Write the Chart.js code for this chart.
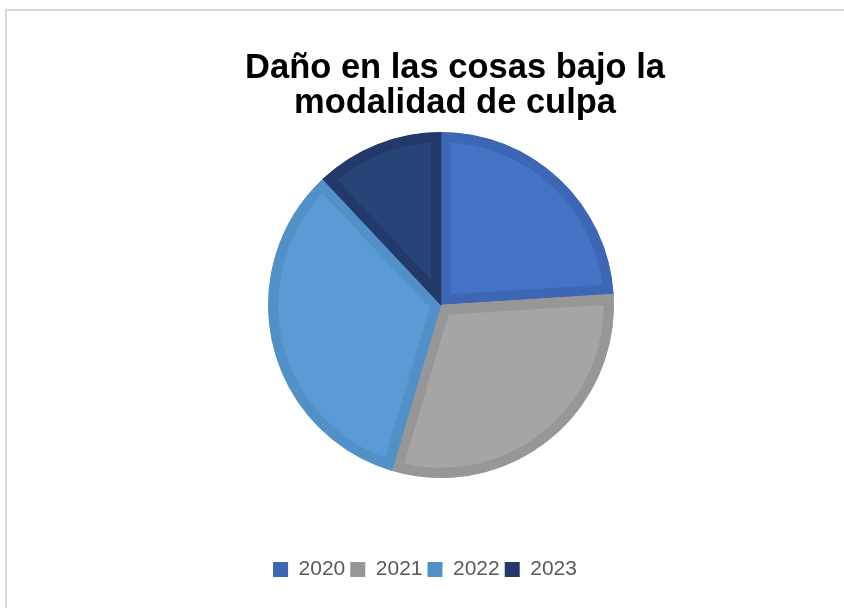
<!DOCTYPE html>
<html>
<head>
<meta charset="utf-8">
<script src="https://cdn.jsdelivr.net/npm/chart.js@4"></script>
<style>
  html, body { margin: 0; padding: 0; background: #fff; overflow: hidden; }
  #frame { position: absolute; left: 5px; top: 9px; width: 900px; height: 700px;
           border-left: 2px solid #d9d9d9; border-top: 2px solid #d9d9d9; }
  #pieChart { position: absolute; left: 0; top: 0; }
</style>
</head>
<body>
<div id="frame"></div>
<canvas id="pieChart" width="844" height="608"></canvas>
<script>
  const years = ['2020', '2021', '2022', '2023'];
  const values = [24.0, 30.6, 33.4, 12.0];
  const titleLines = ['Daño en las cosas bajo la', 'modalidad de culpa'];

  const fillColors = ['#4472C4', '#A5A5A5', '#5B9BD5', '#264478'];
  const edgeColors = ['#3D66B4', '#979797', '#5290C8', '#22396A'];

  // mueve titulo y leyenda un poco, el pie queda donde esta
  const nudge = {
    id: 'nudge',
    afterLayout(chart) {
      const t = chart.titleBlock, l = chart.legend;
      t.left += 14; t.right += 14;
      l.left -= 16; l.right -= 16;
      l.top += 76; l.bottom += 76;
    }
  };

  const ctx = document.getElementById('pieChart').getContext('2d');

  const pieChart = new Chart(ctx, {
    type: 'pie',
    data: {
      labels: years,
      datasets: [{
        data: values,
        backgroundColor: fillColors,
        borderColor: edgeColors,
        borderWidth: 10,
        borderAlign: 'inner',
        borderJoinStyle: 'miter',
        hoverOffset: 0
      }]
    },
    options: {
      responsive: false,
      animation: false,
      layout: { padding: { left: 40, right: 2, top: 0, bottom: 94 } },
      plugins: {
        tooltip: { enabled: false },
        title: {
          display: true,
          text: titleLines,
          color: '#000',
          font: { family: '"Liberation Sans", Arial, sans-serif', size: 34.5, weight: 'bold', lineHeight: '35px' },
          padding: { top: 51, bottom: 11 }
        },
        legend: {
          position: 'bottom',
          labels: {
            boxWidth: 15,
            boxHeight: 15,
            padding: 5,
            color: '#595959',
            font: { family: '"Liberation Sans", Arial, sans-serif', size: 21 },
            generateLabels: chart => years.map((y, i) => ({
              text: y,
              fillStyle: edgeColors[i],
              strokeStyle: edgeColors[i],
              fontColor: '#595959',
              lineWidth: 0,
              hidden: false,
              index: i
            }))
          }
        }
      }
    },
    plugins: [nudge]
  });
</script>
</body>
</html>
